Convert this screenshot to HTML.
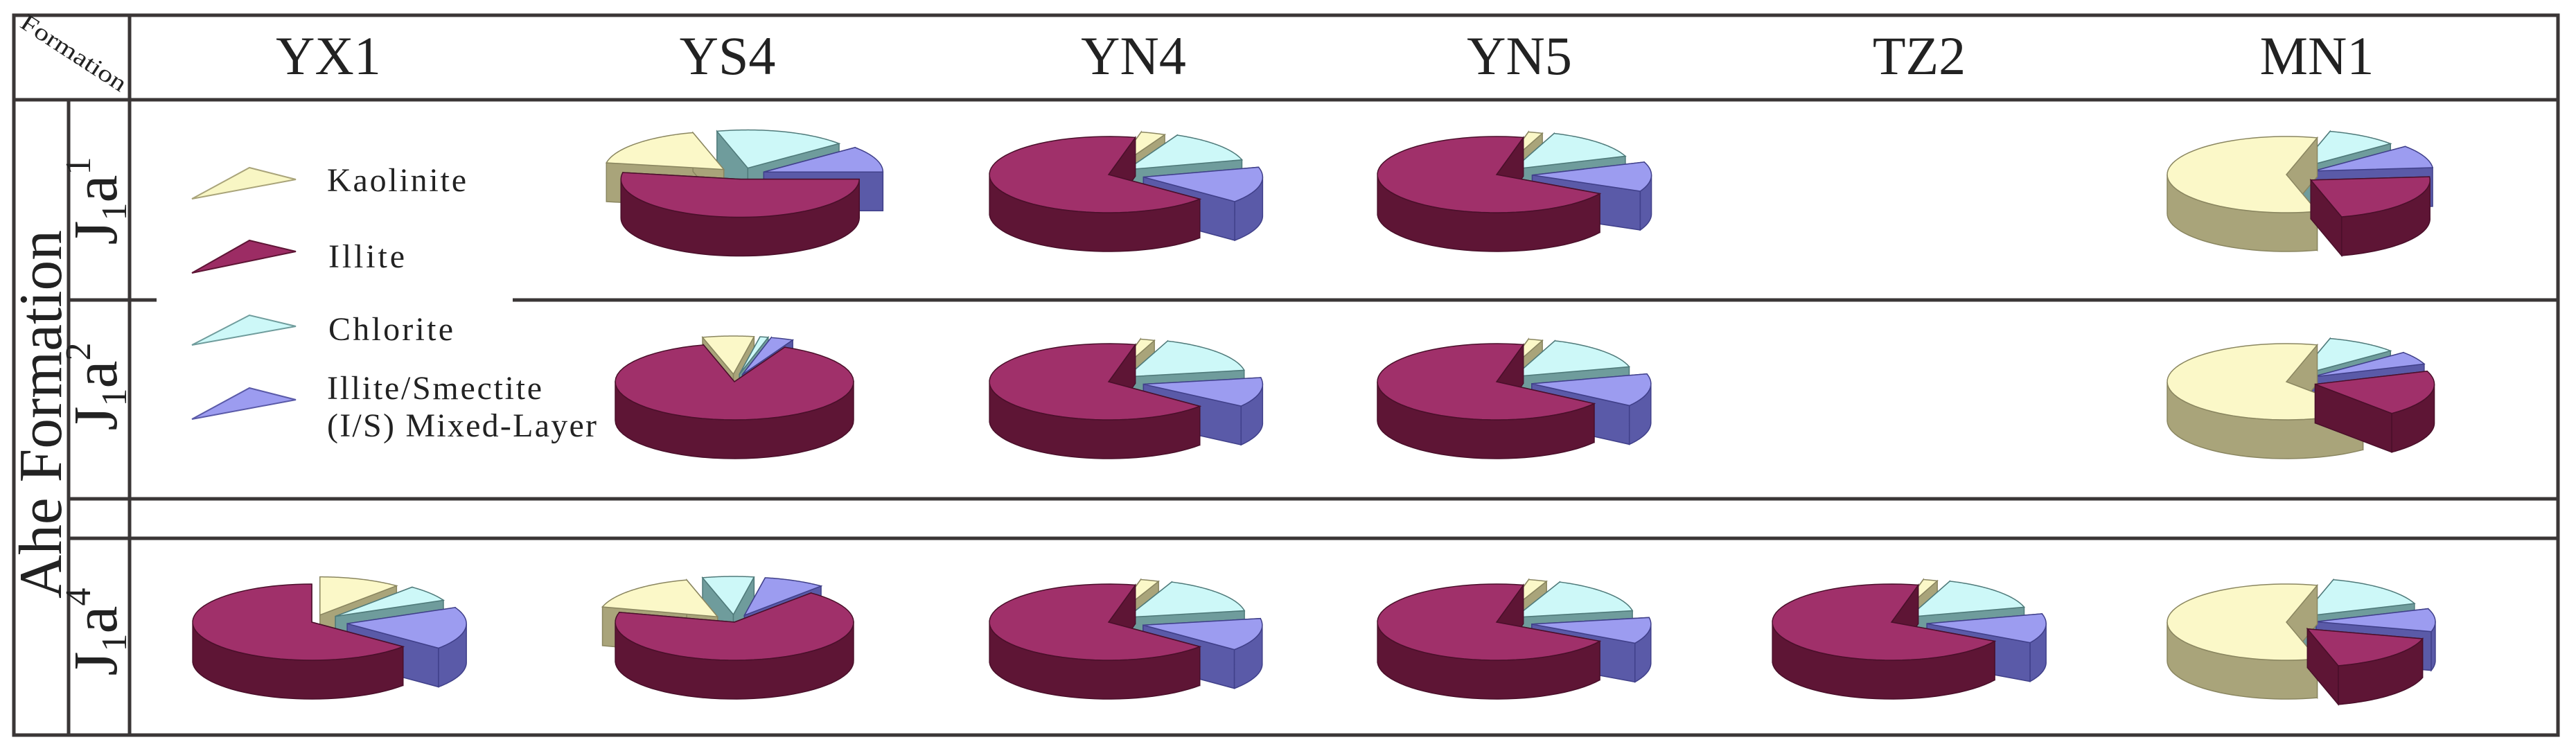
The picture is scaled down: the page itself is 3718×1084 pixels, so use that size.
<!DOCTYPE html>
<html><head><meta charset="utf-8"><style>
html,body{margin:0;padding:0;background:#fff;}
svg{display:block;}
text{font-family:"Liberation Serif",serif;fill:#222;}
</style></head><body>
<svg id="s" width="3718" height="1084" viewBox="0 0 3718 1084" xmlns="http://www.w3.org/2000/svg">
<rect x="0" y="0" width="3718" height="1084" fill="#fff"/>
<g stroke="#3a3636" stroke-width="5" fill="none">
<rect x="20" y="22" width="3672" height="1039"/>
<line x1="20" y1="144" x2="3692" y2="144"/>
<line x1="99" y1="144" x2="99" y2="1061"/>
<line x1="187" y1="22" x2="187" y2="1061"/>
<line x1="99" y1="433" x2="226" y2="433"/>
<line x1="740" y1="433" x2="3692" y2="433"/>
<line x1="99" y1="720" x2="3692" y2="720"/>
<line x1="99" y1="777" x2="3692" y2="777"/>
</g>
<text x="27" y="38" font-size="34" transform="rotate(33 27 38)" textLength="175" lengthAdjust="spacingAndGlyphs">Formation</text>
<g font-size="78" text-anchor="middle">
<text x="474" y="107">YX1</text>
<text x="1050" y="107">YS4</text>
<text x="1636" y="107">YN4</text>
<text x="2193" y="107">YN5</text>
<text x="2770" y="107">TZ2</text>
<text x="3344" y="107">MN1</text>
</g>
<text x="0" y="0" font-size="88" text-anchor="middle" transform="translate(88 598) rotate(-90)" textLength="532" lengthAdjust="spacingAndGlyphs">Ahe Formation</text>
<g font-size="90" text-anchor="middle">
<text transform="translate(168 290) rotate(-90)">J<tspan font-size="52" dy="14">1</tspan><tspan dy="-14">a</tspan><tspan font-size="52" dy="-38">1</tspan></text>
<text transform="translate(168 558) rotate(-90)">J<tspan font-size="52" dy="14">1</tspan><tspan dy="-14">a</tspan><tspan font-size="52" dy="-38">2</tspan></text>
<text transform="translate(168 912) rotate(-90)">J<tspan font-size="52" dy="14">1</tspan><tspan dy="-14">a</tspan><tspan font-size="52" dy="-38">4</tspan></text>
</g>
<g stroke-width="2">
<polygon points="277,287 360,242 427,259" fill="#f8f6c4" stroke="#a9a47a"/>
<polygon points="277,394 360,347 427,363" fill="#9c2c64" stroke="#5e1535"/>
<polygon points="277,498 360,455 427,471" fill="#cdf8f8" stroke="#6f9c9c"/>
<polygon points="277,605 360,560 427,577" fill="#9c9cf0" stroke="#5a5aa8"/>
</g>
<g font-size="48">
<text x="472" y="276" textLength="201">Kaolinite</text>
<text x="474" y="386" textLength="110">Illite</text>
<text x="474" y="491" textLength="180">Chlorite</text>
<text x="472" y="576" textLength="310">Illite/Smectite</text>
<text x="472" y="630" textLength="389">(I/S) Mixed-Layer</text>
</g>
<g id="pies"></g>
</svg>
<script>
var C={K:["#fbf8c8","#a9a47a","#8a8660"],I:["#a0306a","#5e1535","#4a0f2a"],C:["#cdf8f8","#6f9c9c","#4f7a7a"],S:["#9c9cf0","#5a5aa8","#40408a"]};
var rx=172,ry=55,d=56;
function P(cx,cy,a){var r=a*Math.PI/180;return [cx+rx*Math.cos(r),cy+ry*Math.sin(r)];}
function pie(cx,cy,sl){
 var g=document.getElementById('pies'),out='';
 var arr=sl.map(function(s){var m=(s[0]+s[1])/2,r=m*Math.PI/180,e=s[3]||0;
  return {s:s[0],e:s[1],t:s[2],x:cx+e*rx*Math.cos(r),y:cy+e*ry*Math.sin(r),k:Math.sin(r)};});
 arr.sort(function(a,b){return a.k-b.k;});
 arr.forEach(function(o){
  var c=C[o.t],i,pts=[];
  [o.s,o.e].forEach(function(a){var p=P(o.x,o.y,a);
   out+='<polygon points="'+o.x+','+o.y+' '+p[0]+','+p[1]+' '+p[0]+','+(p[1]+d)+' '+o.x+','+(o.y+d)+'" fill="'+c[1]+'" stroke="'+c[2]+'" stroke-width="1.5"/>';});
  for(i=0;i<=60;i++){var a=o.s+(o.e-o.s)*i/60,r=a*Math.PI/180;if(Math.sin(r)>=-0.02){pts.push(P(o.x,o.y,a));}}
  if(pts.length>1){var s='';pts.forEach(function(p){s+=p[0]+','+p[1]+' ';});
   for(i=pts.length-1;i>=0;i--)s+=pts[i][0]+','+(pts[i][1]+d)+' ';
   out+='<polygon points="'+s+'" fill="'+c[1]+'" stroke="'+c[2]+'" stroke-width="1.5"/>';}
  var t=o.x+','+o.y+' ';
  for(i=0;i<=60;i++){var p=P(o.x,o.y,o.s+(o.e-o.s)*i/60);t+=p[0]+','+p[1]+' ';}
  out+='<polygon points="'+t+'" fill="'+c[0]+'" stroke="'+c[2]+'" stroke-width="1.5"/>';
 });
 g.insertAdjacentHTML('beforeend',out);
}
var r1=252,r2=551,r3=898;
// row 1
pie(1070,r1,[[0,190,'I',0.12],[190,255,'K',0.2],[255,320,'C',0.18],[320,360,'S',0.2]]);
pie(1600,r1,[[40,283,'I',0],[283,295,'K',0.15],[295,345,'C',0.2],[345,400,'S',0.3]]);
pie(2160,r1,[[30,283,'I',0],[283,290,'K',0.15],[290,340,'C',0.2],[340,385,'S',0.3]]);
pie(3300,r1,[[75,285,'K',0],[285,320,'C',0.2],[320,355,'S',0.25],[355,435,'I',0.25]]);
// row 2
pie(1060,r2,[[-65,255,'I',0],[255,280,'K',0.2],[280,284,'C',0.2],[284,295,'S',0.2]]);
pie(1600,r2,[[40,283,'I',0],[283,290,'K',0.15],[290,350,'C',0.2],[350,395,'S',0.3]]);
pie(2160,r2,[[35,283,'I',0],[283,290,'K',0.15],[290,345,'C',0.2],[345,395,'S',0.3]]);
pie(3300,r2,[[50,285,'K',0],[285,320,'C',0.2],[320,340,'S',0.25],[340,410,'I',0.25]]);
// row 3
pie(450,r3,[[40,270,'I',0],[270,310,'K',0.2],[310,335,'C',0.25],[335,400,'S',0.3]]);
pie(1060,r3,[[-50,195,'I',0],[195,255,'K',0.2],[255,280,'C',0.2],[280,310,'S',0.2]]);
pie(1600,r3,[[40,283,'I',0],[283,292,'K',0.15],[292,350,'C',0.2],[350,400,'S',0.3]]);
pie(2160,r3,[[30,283,'I',0],[283,292,'K',0.15],[292,350,'C',0.2],[350,390,'S',0.3]]);
pie(2730,r3,[[30,283,'I',0],[283,290,'K',0.15],[290,345,'C',0.2],[345,390,'S',0.3]]);
pie(3300,r3,[[75,285,'K',0],[285,340,'C',0.2],[340,375,'S',0.25],[15,75,'I',0.25]]);
</script>
</body></html>
